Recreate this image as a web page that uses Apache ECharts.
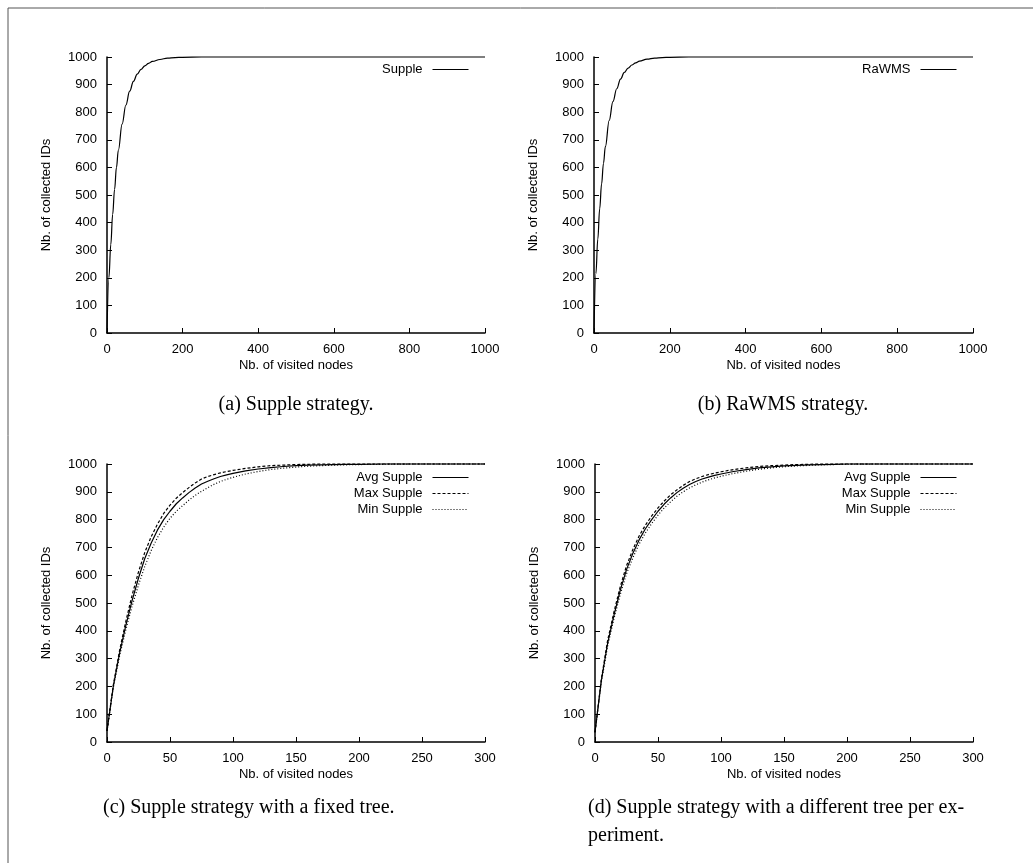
<!DOCTYPE html>
<html>
<head>
<meta charset="utf-8">
<script src="https://cdn.jsdelivr.net/npm/echarts@6/dist/echarts.min.js"></script>
<style>
  html, body { margin: 0; padding: 0; background: #fff; }
  #chart { width: 1033px; height: 863px; }
</style>
</head>
<body>
<div id="chart"></div>
<script>
// top row: whole run, 0..1000 visited nodes
const xLong = [0, 5, 10, 15, 20, 25, 30, 40, 50, 60, 70, 80, 90, 100, 110, 120, 140, 160, 180, 200, 250, 300, 400, 500, 600, 700, 800, 900, 1000]
const suppleA = [0, 200, 320, 430, 520, 600, 662, 757, 826, 876, 912, 938, 955, 968, 977, 984, 991, 996, 998, 999, 1000, 1000, 1000, 1000, 1000, 1000, 1000, 1000, 1000]
const rawmsB = [0, 215, 340, 450, 540, 615, 675, 770, 838, 885, 920, 944, 960, 971, 979, 985, 992, 996, 998, 999, 1000, 1000, 1000, 1000, 1000, 1000, 1000, 1000, 1000]

// bottom row: zoom on 0..300 visited nodes
const xShort = [0, 5, 10, 15, 20, 25, 30, 35, 40, 45, 50, 55, 60, 65, 70, 75, 80, 85, 90, 95, 100, 110, 120, 130, 140, 150, 160, 170, 180, 190, 200, 220, 240, 260, 280, 300]
const avgC = [40, 200, 320, 420, 510, 590, 660, 715, 762, 800, 830, 857, 878, 897, 914, 928, 938, 947, 955, 961, 966, 975, 982, 987, 991, 994, 996, 997, 998, 999, 999, 1000, 1000, 1000, 1000, 1000]
const maxC = [40, 205, 330, 435, 530, 612, 682, 738, 783, 822, 852, 877, 897, 915, 932, 946, 955, 962, 968, 973, 977, 984, 990, 994, 996, 998, 999, 1000, 1000, 1000, 1000, 1000, 1000, 1000, 1000, 1000]
const minC = [40, 195, 310, 405, 490, 565, 632, 688, 735, 773, 805, 830, 850, 870, 887, 902, 915, 927, 937, 945, 952, 964, 973, 980, 985, 989, 992, 994, 996, 997, 998, 999, 1000, 1000, 1000, 1000]
const avgD = [35, 220, 355, 455, 545, 620, 678, 727, 767, 800, 830, 856, 878, 897, 913, 926, 937, 946, 953, 959, 964, 973, 980, 986, 990, 993, 995, 997, 998, 999, 1000, 1000, 1000, 1000, 1000, 1000]
const maxD = [35, 225, 365, 467, 558, 634, 692, 741, 780, 813, 842, 867, 889, 907, 923, 937, 947, 955, 962, 967, 972, 980, 986, 991, 994, 996, 998, 999, 1000, 1000, 1000, 1000, 1000, 1000, 1000, 1000]
const minD = [35, 215, 345, 443, 530, 605, 662, 712, 752, 786, 816, 842, 864, 884, 900, 914, 925, 935, 943, 950, 956, 966, 974, 981, 986, 990, 993, 995, 997, 998, 999, 1000, 1000, 1000, 1000, 1000]

const yTicks = 100
const font = 'Liberation Sans, Arial, sans-serif'
const serif = 'Liberation Serif, Times New Roman, serif'

const pairs = (xs, ys) => xs.map((x, i) => [x, ys[i]])

const grids = [
  { left: 107, top: 57, width: 378, height: 276 },
  { left: 594, top: 57, width: 379, height: 276 },
  { left: 107, top: 464, width: 378, height: 278 },
  { left: 595, top: 464, width: 378, height: 278 }
]

const axisCommon = {
  axisLine: { lineStyle: { color: '#000', width: 1.5 } },
  axisTick: { inside: true, length: 5, lineStyle: { color: '#000', width: 1 } },
  axisLabel: { color: '#000', fontFamily: font, fontSize: 13, formatter: v => String(v) },
  splitLine: { show: false },
  nameTextStyle: { color: '#000', fontFamily: font, fontSize: 13 }
}

const xAxes = grids.map((g, i) => ({
  ...axisCommon,
  type: 'value',
  gridIndex: i,
  min: 0,
  max: i < 2 ? 1000 : 300,
  interval: i < 2 ? 200 : 50,
  name: 'Nb. of visited nodes',
  nameLocation: 'middle',
  nameGap: 26,
  axisLabel: { ...axisCommon.axisLabel, margin: 10, showMaxLabel: true }
}))

const yAxes = grids.map((g, i) => ({
  ...axisCommon,
  type: 'value',
  gridIndex: i,
  min: 0,
  max: 1000,
  interval: yTicks,
  name: 'Nb. of collected IDs',
  nameLocation: 'middle',
  nameGap: 54,
  axisLabel: { ...axisCommon.axisLabel, margin: 10 }
}))

const line = (name, idx, xs, ys, type) => ({
  name,
  type: 'line',
  xAxisIndex: idx,
  yAxisIndex: idx,
  data: pairs(xs, ys),
  showSymbol: false,
  symbol: 'none',
  clip: false,
  smooth: idx < 2 ? 0.4 : false,
  smoothMonotone: 'x',
  lineStyle: { color: '#000', width: 1.2, type: type },
  itemStyle: { color: '#000' }
})

// gnuplot style key: text on the left, line sample on the right, no marker
const legendCommon = {
  orient: 'vertical',
  align: 'right',
  itemWidth: 36,
  itemHeight: 10,
  itemGap: 3,
  padding: 0,
  itemStyle: { opacity: 0 },
  lineStyle: { width: 1 },
  textStyle: { color: '#000', fontFamily: font, fontSize: 13, padding: [0, 5, 0, 0] }
}

const caption = (text, x, y, align) => ({
  type: 'text',
  x: x,
  y: y,
  style: { text: text, fill: '#000', font: '20px ' + serif, textAlign: align, textVerticalAlign: 'middle' }
})

const option = {
  animation: false,
  backgroundColor: '#fff',
  grid: grids,
  xAxis: xAxes,
  yAxis: yAxes,
  legend: [
    { ...legendCommon, data: ['Supple'], right: 564, top: 63 },
    { ...legendCommon, data: ['RaWMS'], right: 76, top: 63 },
    { ...legendCommon, data: ['Avg Supple', 'Max Supple', 'Min Supple'], right: 564, top: 471 },
    { ...legendCommon, data: ['Avg Supple', 'Max Supple', 'Min Supple'], right: 76, top: 471 }
  ],
  series: [
    line('Supple', 0, xLong, suppleA, 'solid'),
    line('RaWMS', 1, xLong, rawmsB, 'solid'),
    line('Avg Supple', 2, xShort, avgC, 'solid'),
    line('Max Supple', 2, xShort, maxC, [3, 2]),
    line('Min Supple', 2, xShort, minC, [1, 2]),
    line('Avg Supple', 3, xShort, avgD, 'solid'),
    line('Max Supple', 3, xShort, maxD, [3, 2]),
    line('Min Supple', 3, xShort, minD, [1, 2])
  ],
  graphic: [
    { type: 'polyline', shape: { points: [[8, 863], [8, 8], [1033, 8]] }, style: { stroke: '#555', lineWidth: 1, fill: null } },
    caption('(a) Supple strategy.', 296, 405, 'center'),
    caption('(b) RaWMS strategy.', 783, 405, 'center'),
    caption('(c) Supple strategy with a fixed tree.', 103, 808, 'left'),
    caption('(d) Supple strategy with a different tree per ex-', 588, 808, 'left'),
    caption('periment.', 588, 836, 'left')
  ]
}

const myChart = echarts.init(document.getElementById('chart'))
option && myChart.setOption(option)
</script>
</body>
</html>
